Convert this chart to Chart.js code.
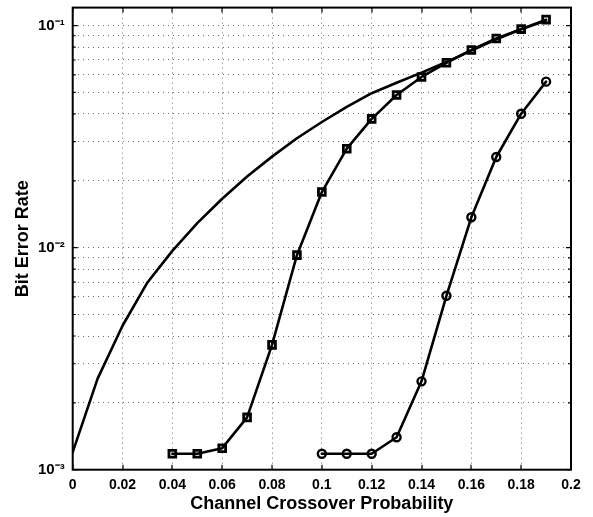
<!DOCTYPE html>
<html><head><meta charset="utf-8">
<script src="https://cdn.jsdelivr.net/npm/chart.js@4"></script>
<style>html,body{margin:0;padding:0;background:#fff}</style>
</head><body>
<canvas id="c" width="593" height="517"></canvas>
<script>
// ---- data ----
const xSmooth = [0,0.01,0.02,0.03,0.04,0.05,0.06,0.07,0.08,0.09,0.10,0.11,0.12,0.13,0.14,0.15,0.16,0.17,0.18,0.19];
const ySmooth = [0.00120,0.00257,0.00445,0.00697,0.00967,0.0129,0.0166,0.0209,0.0257,0.0311,0.0368,0.0430,0.0496,0.0553,0.0614,0.0685,0.0772,0.0868,0.0962,0.1055];

const xSquares = [0.04,0.05,0.06,0.07,0.08,0.09,0.10,0.11,0.12,0.13,0.14,0.15,0.16,0.17,0.18,0.19];
const ySquares = [0.00118,0.00118,0.00125,0.00172,0.00365,0.00925,0.0178,0.0279,0.0380,0.0487,0.0587,0.0680,0.0776,0.0875,0.0964,0.1064];

const xCircles = [0.10,0.11,0.12,0.13,0.14,0.15,0.16,0.17,0.18,0.19];
const yCircles = [0.00118,0.00118,0.00118,0.00140,0.00250,0.00607,0.0137,0.0256,0.0401,0.0559];

const xTickValues = [0,0.02,0.04,0.06,0.08,0.10,0.12,0.14,0.16,0.18,0.20];
const xTickLabels = ['0','0.02','0.04','0.06','0.08','0.1','0.12','0.14','0.16','0.18','0.2'];
const yGridValues = [0.001,0.002,0.003,0.004,0.005,0.006,0.007,0.008,0.009,
                     0.01,0.02,0.03,0.04,0.05,0.06,0.07,0.08,0.09,0.1];
const yMajorValues = [0.001,0.01,0.1];
const yMajorLabels = ['10\u207B\u00B3','10\u207B\u00B2','10\u207B\u00B9'];
const xTitle = 'Channel Crossover Probability';
const yTitle = 'Bit Error Rate';

const pts = (xs, ys) => xs.map((x,i)=>({x:x, y:ys[i]}));
const FONT = '"Liberation Sans", Arial, Helvetica, sans-serif';

const frame = {
  id:'frame',
  afterDatasetsDraw(chart){
    const {ctx, chartArea:a, scales:{x,y}} = chart;
    ctx.save();
    ctx.strokeStyle = '#000';
    ctx.lineWidth = 1.2;
    ctx.beginPath();
    for (const v of xTickValues){
      const px = Math.round(x.getPixelForValue(v));
      ctx.moveTo(px,a.bottom); ctx.lineTo(px,a.bottom-5);
      ctx.moveTo(px,a.top); ctx.lineTo(px,a.top+5);
    }
    for (const v of yGridValues){
      const py = y.getPixelForValue(v);
      const L = yMajorValues.some(m=>Math.abs(m-v)<1e-12) ? 5 : 3;
      ctx.moveTo(a.left,py); ctx.lineTo(a.left+L,py);
      ctx.moveTo(a.right,py); ctx.lineTo(a.right-L,py);
    }
    ctx.stroke();
    ctx.lineWidth = 2;
    ctx.strokeRect(a.left, a.top, a.right-a.left, a.bottom-a.top);
    ctx.restore();
  }
};

new Chart(document.getElementById('c'), {
  type:'line',
  data:{
    datasets:[
      {data:pts(xSmooth,ySmooth), borderColor:'#000', borderWidth:2.6, pointRadius:0, tension:0},
      {data:pts(xSquares,ySquares), borderColor:'#000', borderWidth:2.6, tension:0,
       pointStyle:'rect', pointRadius:4.8, pointBorderWidth:2.8, pointBackgroundColor:'rgba(0,0,0,0)', pointBorderColor:'#000'},
      {data:pts(xCircles,yCircles), borderColor:'#000', borderWidth:2.6, tension:0,
       pointStyle:'circle', pointRadius:4, pointBorderWidth:2.4, pointBackgroundColor:'rgba(0,0,0,0)', pointBorderColor:'#000'}
    ]
  },
  options:{
    responsive:false, animation:false,
    layout:{padding:{top:6,right:22,left:0,bottom:0}},
    plugins:{legend:{display:false}, tooltip:{enabled:false}},
    elements:{line:{borderCapStyle:'round', borderJoinStyle:'round'}},
    scales:{
      x:{
        type:'linear', min:0, max:0.2,
        afterBuildTicks:s=>{ s.ticks = xTickValues.map(v=>({value:v})); },
        afterFit:s=>{ s.height = 47.3; s.paddingLeft = 0; s.paddingRight = 0; },
        border:{display:false, dash:[1,4]},
        grid:{color:'rgba(60,60,60,0.75)', lineWidth:1, drawTicks:false},
        ticks:{autoSkip:false, maxRotation:0, padding:7, color:'#000',
               font:{family:FONT, size:14, weight:'bold'},
               callback:(v,i)=>xTickLabels[i]},
        title:{display:true, text:xTitle, color:'#000', padding:{top:0,bottom:2},
               font:{family:FONT, size:18, weight:'bold'}}
      },
      y:{
        type:'logarithmic', min:0.001, max:0.1205,
        afterBuildTicks:s=>{ s.ticks = yGridValues.map(v=>({value:v})); },
        afterFit:s=>{ s.width = 72.7; s.paddingTop = 0; s.paddingBottom = 0; },
        border:{display:false, dash:[1,4]},
        grid:{color:'rgba(60,60,60,0.75)', lineWidth:1, drawTicks:false},
        ticks:{autoSkip:false, padding:8, color:'#000',
               font:{family:FONT, size:15, weight:'bold'},
               callback:(v)=>{ const k = yMajorValues.findIndex(m=>Math.abs(m-v)<1e-12); return k>=0 ? yMajorLabels[k] : ''; }},
        title:{display:true, text:yTitle, color:'#000', padding:{top:12,bottom:0},
               font:{family:FONT, size:18, weight:'bold'}}
      }
    }
  },
  plugins:[frame]
});
</script>
</body></html>
